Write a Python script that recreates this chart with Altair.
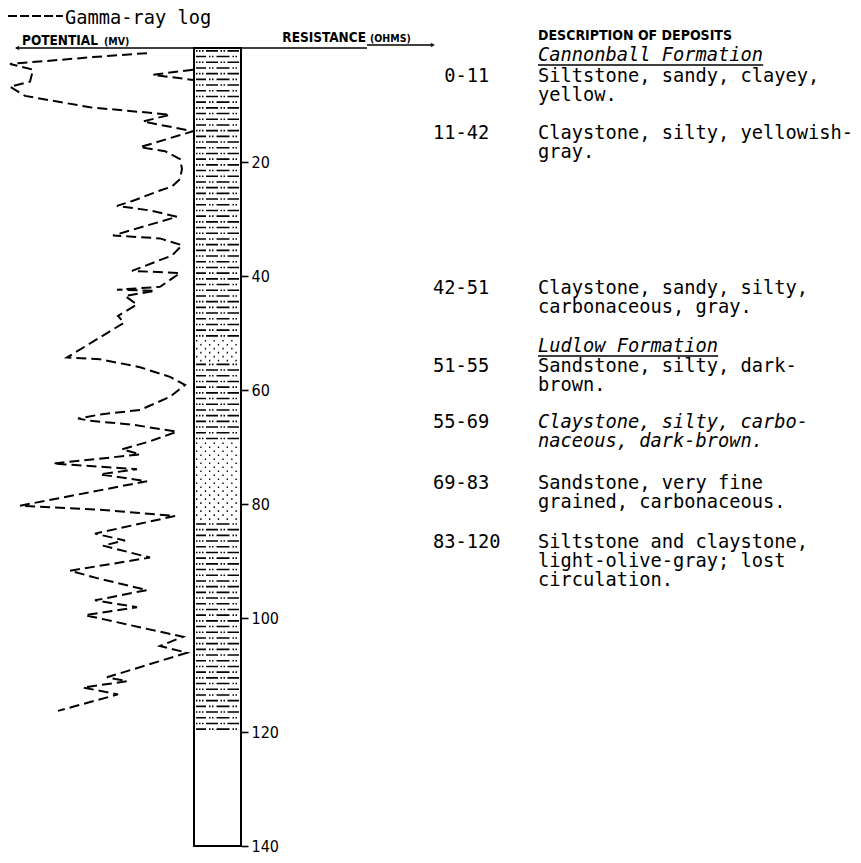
import altair as alt
import pandas as pd
import numpy as np

# ---------------- data ----------------
# Gamma-ray log: relative reading (0 = left edge of track) against depth (ft)
gamma_value = [69.5, 42.5, 1.0, 12.5, 11.0, 1.0, 8.5, 41.0, 81.0, 67.5,
               92.5, 66.0, 78.5, 86.0, 87.0, 86.0, 82.0, 76.0, 62.5, 54.5,
               71.0, 84.5, 52.5, 76.0, 87.0, 82.0, 62.0, 86.0, 76.0, 54.5,
               73.5, 58.5, 64.5, 55.0, 58.0, 29.5, 46.0, 66.0, 81.0, 88.5,
               81.0, 66.0, 46.0, 35.0, 41.0, 62.5, 84.5, 71.0, 57.0, 66.0,
               22.5, 64.5, 46.0, 69.5, 6.0, 46.0, 83.5, 43.5, 58.5, 47.5,
               71.0, 31.0, 44.5, 69.5, 43.5, 64.5, 38.5, 87.5, 76.0, 89.5,
               49.5, 59.5, 37.5, 55.0, 25.0]
gamma_depth = [0.9, 1.6, 2.8, 3.8, 5.9, 6.8, 8.4, 10.4, 11.7, 12.9,
               14.6, 17.4, 18.1, 19.5, 21.2, 23.0, 24.3, 25.0, 26.8, 27.7,
               28.5, 29.6, 32.9, 33.4, 34.6, 36.4, 39.1, 39.5, 41.9, 42.4,
               42.6, 43.5, 45.0, 47.0, 48.2, 54.3, 54.6, 56.0, 57.7, 59.1,
               61.2, 63.5, 64.3, 65.0, 65.4, 66.1, 67.3, 69.0, 70.4, 71.3,
               72.9, 73.9, 74.8, 76.0, 80.3, 81.0, 82.1, 85.2, 86.4, 87.3,
               89.4, 91.7, 93.0, 95.1, 96.9, 98.1, 99.5, 103.3, 104.9, 106.1,
               110.4, 111.1, 112.2, 113.4, 116.3]
# short separate trace next to the column near the top
hook_value = [92.5, 72.5, 92.5]
hook_depth = [3.8, 4.7, 5.6]

# lithologic column
lith_top = [0, 11, 42, 51, 55, 69, 83]
lith_bottom = [11, 42, 51, 55, 69, 83, 120]
lith_pattern = ["shale", "shale", "shale", "sand", "shale", "sand", "shale"]
column_top = [0]
column_bottom = [140]
depth_ticks = [20, 40, 60, 80, 100, 120, 140]

# descriptions
ranges = ["0-11", "11-42", "42-51", "51-55", "55-69", "69-83", "83-120"]
range_indent = [1, 0, 0, 0, 0, 0, 0]     # typewriter character positions
descriptions = [
    ["Siltstone, sandy, clayey,", "yellow."],
    ["Claystone, silty, yellowish-", "gray."],
    ["Claystone, sandy, silty,", "carbonaceous, gray."],
    ["Sandstone, silty, dark-", "brown."],
    ["Claystone, silty, carbo-", "naceous, dark-brown."],
    ["Sandstone, very fine", "grained, carbonaceous."],
    ["Siltstone and claystone,", "light-olive-gray; lost", "circulation."],
]
italic_blocks = [4]
formations = ["Cannonball Formation", "Ludlow Formation"]

# ---------------- layout (pixels) ----------------
W, H = 845, 847
Y0, Y1 = 40, 838                 # pixel rows of depth 0 and 140
COL_L, COL_R = 186, 233
block_base = [74, 131, 286, 364, 420, 481, 540]
formation_base = [53, 344]
LINE = 19
CHAR = 11.26
DESC_X, RANGE_X = 530, 425
MONO = "DejaVu Sans Mono"
COND = "Liberation Sans Narrow, DejaVu Sans Condensed, sans-serif"

depth_scale = alt.Scale(domain=[0, 140], range=[Y0, Y1])
gamma_scale = alt.Scale(domain=[0, 100], range=[0, 200])

# ---------------- tables ----------------
gdf = pd.DataFrame({"value": gamma_value + hook_value,
                    "depth": gamma_depth + hook_depth,
                    "seg": ["main"] * len(gamma_value) + ["hook"] * len(hook_value)})
gdf["idx"] = range(len(gdf))

col_df = pd.DataFrame({"top": column_top, "bottom": column_bottom})

rows = []
for t, b, p in zip(lith_top, lith_bottom, lith_pattern):
    if p == "shale":
        for d in np.arange(t + 0.5, b, 1.0):
            rows.append({"d": float(d), "kind": "A" if int(d) % 2 == 0 else "B"})
    else:
        for i, d in enumerate(np.arange(t + 0.35, b, 0.7)):
            rows.append({"d": float(d), "kind": "S1" if i % 2 == 0 else "S2"})
rows_df = pd.DataFrame(rows)
dash_domain = ["A", "B", "S1", "S2"]
dash_range = [[1.5, 1.5, 1.5, 1.5, 1.5, 2.5, 12, 2.5, 1.5, 1.5, 1.5, 2.5, 14, 3],
              [10, 3, 1.5, 1.5, 1.5, 3, 13, 3, 1.5, 1.5, 1.5, 2, 18, 2],
              [1.3, 7.5],
              [0.01, 4.2, 1.3, 3.3]]

normal_lines, italic_lines, range_lines = [], [], []
for i, (rg, lines) in enumerate(zip(ranges, descriptions)):
    range_lines.append({"t": rg, "ty": block_base[i], "tx": RANGE_X + range_indent[i] * CHAR})
    target = italic_lines if i in italic_blocks else normal_lines
    for j, ln in enumerate(lines):
        target.append({"t": ln, "ty": block_base[i] + j * LINE, "tx": DESC_X})
for f, yb in zip(formations, formation_base):
    italic_lines.append({"t": f, "ty": yb, "tx": DESC_X})

# ---------------- layers ----------------
gamma = alt.Chart(gdf).mark_line(color="black", strokeWidth=2, strokeDash=[10, 5]).encode(
    x=alt.X("value:Q", scale=gamma_scale, axis=None),
    y=alt.Y("depth:Q", scale=depth_scale, axis=None),
    detail="seg:N",
    order="idx:Q",
)

column = alt.Chart(col_df).mark_rect(fill="white", stroke="black", strokeWidth=2).encode(
    y=alt.Y("top:Q", scale=depth_scale,
            axis=alt.Axis(orient="right", offset=COL_R - W, values=depth_ticks,
                          domain=False, grid=False, title=None, tickSize=7,
                          tickWidth=1.6, tickColor="black", labelColor="black",
                          labelFont=COND, labelFontSize=16, labelFontWeight="normal",
                          labelPadding=3)),
    y2="bottom:Q",
    x=alt.value(COL_L), x2=alt.value(COL_R),
)

pattern = alt.Chart(rows_df).mark_rule(color="black", strokeWidth=1.6, strokeCap="butt").encode(
    y=alt.Y("d:Q", scale=depth_scale, axis=None),
    x=alt.value(COL_L + 2), x2=alt.value(COL_R - 2),
    strokeDash=alt.StrokeDash("kind:N", scale=alt.Scale(domain=dash_domain, range=dash_range),
                              legend=None),
)


def text_layer(records, font, size, weight="normal", style="normal", align="left"):
    return alt.Chart(pd.DataFrame(records)).mark_text(
        align=align, baseline="alphabetic", font=font, fontSize=size,
        fontWeight=weight, fontStyle=style, color="black"
    ).encode(x=alt.X("tx:Q", scale=None, axis=None),
             y=alt.Y("ty:Q", scale=None, axis=None), text="t:N")


t_ranges = text_layer(range_lines, MONO, 18.7)
t_desc = text_layer(normal_lines, MONO, 18.7)
t_ital = text_layer(italic_lines, MONO, 18.7, style="italic")
t_legend = text_layer([{"t": "Gamma-ray log", "ty": 16, "tx": 57}], MONO, 18.7)
t_pot = text_layer([{"t": "POTENTIAL", "ty": 37, "tx": 14}], COND, 13.5, weight="bold")
t_mv = text_layer([{"t": "(MV)", "ty": 37, "tx": 96}], COND, 10.5, weight="bold")
t_res = text_layer([{"t": "RESISTANCE", "ty": 34, "tx": 358}], COND, 13.5, weight="bold",
                   align="right")
t_ohm = text_layer([{"t": "(OHMS)", "ty": 34, "tx": 362}], COND, 10.5, weight="bold")
t_dsc = text_layer([{"t": "DESCRIPTION OF DEPOSITS", "ty": 32, "tx": DESC_X}], COND, 14,
                   weight="bold")

base = alt.Chart(pd.DataFrame({"a": [0]}))
legend_dash = base.mark_rule(color="black", strokeWidth=2, strokeDash=[9, 3]).encode(
    x=alt.value(0), x2=alt.value(55), y=alt.value(8))
head_rule = base.mark_rule(color="black", strokeWidth=1.5).encode(
    x=alt.value(8), x2=alt.value(359), y=alt.value(40))
ohm_rule = base.mark_rule(color="black", strokeWidth=1.5).encode(
    x=alt.value(359), x2=alt.value(425), y=alt.value(37))
cannon_rule = base.mark_rule(color="black", strokeWidth=1.5).encode(
    x=alt.value(DESC_X), x2=alt.value(DESC_X + 20 * CHAR), y=alt.value(formation_base[0] + 4))
ludlow_rule = base.mark_rule(color="black", strokeWidth=1.5).encode(
    x=alt.value(DESC_X), x2=alt.value(DESC_X + 16 * CHAR), y=alt.value(formation_base[1] + 4))
arrow_l = base.mark_point(shape="triangle-left", filled=True, color="black", size=25).encode(
    x=alt.value(9), y=alt.value(40))
arrow_r = base.mark_point(shape="triangle-right", filled=True, color="black", size=25).encode(
    x=alt.value(425), y=alt.value(37))

chart = alt.layer(
    gamma, column, pattern,
    t_ranges, t_desc, t_ital, t_legend, t_pot, t_mv, t_res, t_ohm, t_dsc,
    legend_dash, head_rule, ohm_rule, cannon_rule, ludlow_rule, arrow_l, arrow_r,
).resolve_scale(x="independent", y="independent").properties(
    width=W, height=H, autosize=alt.AutoSizeParams(type="none"), padding=0,
    background="white",
).configure_view(stroke=None)

chart.save("out.html", embed_options={"renderer": "svg", "actions": False})
